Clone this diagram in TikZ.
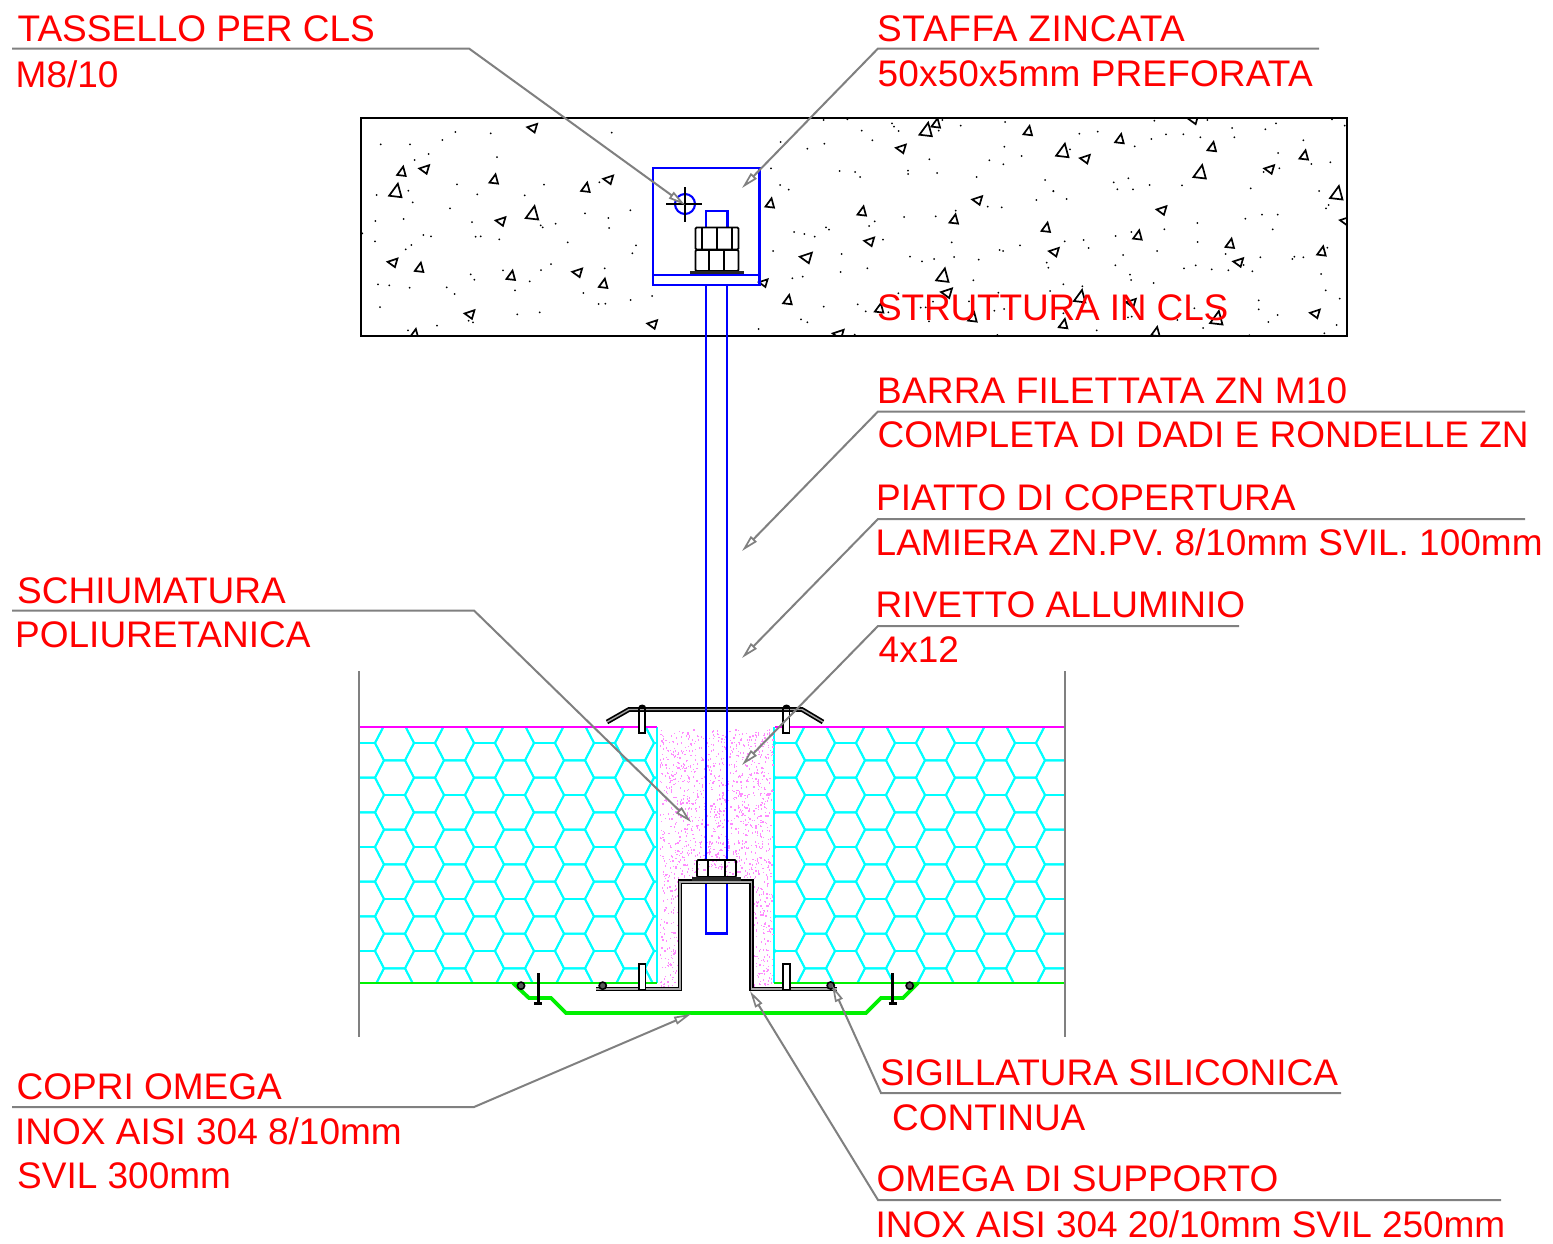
\documentclass[tikz,border=0pt]{standalone}
\usepackage{fontspec}
\setmainfont{Liberation Sans}
\usetikzlibrary{arrows.meta}
\definecolor{lab}{RGB}{255,0,0}
\definecolor{lead}{RGB}{128,128,128}
\definecolor{plateblue}{RGB}{0,0,255}
\definecolor{hexc}{RGB}{0,255,255}
\definecolor{pinkline}{RGB}{255,0,255}
\definecolor{greenl}{RGB}{0,240,0}
\definecolor{foam}{RGB}{255,140,255}
\tikzset{
  lbl/.style={anchor=base west,inner sep=0pt,text=lab,font=\fontsize{37}{38}\selectfont},
  leader/.style={draw=lead,line width=2pt,-{Triangle[length=17pt,width=8pt,fill=white,line width=1.7pt]}},
  bluel/.style={draw=plateblue,line width=2.1pt},
  tri/.style={draw=black,line width=1.7pt,line join=miter},
  nut/.style={draw=black,line width=1.8pt,rounded corners=1.2pt},
  sheet/.style={draw=black,line width=4.8pt,line join=miter},
  sheetcore/.style={draw=lead!70,line width=1.4pt,line join=miter},
  rivet/.style={draw=black,line width=1.7pt},
  seal/.style={draw=black,line width=1.6pt,fill=black!65},
  panel/.style={draw=lead,line width=2pt},
  hexl/.style={draw=hexc,line width=1.9pt},
}
\newcommand{\specks}[3]{\foreach \px/\py in {#3}{\fill[black] ({#1+\px/3},{#2+\py/3}) circle (1pt);}}
\newcommand{\triUp}[3]{\foreach \px/\py/\qs in {#3}{\pgfmathsetmacro{\ps}{1.12*\qs}\draw[tri] ({#1+\px/3+0.3*\ps},{#2+\py/3-\ps}) -- ({#1+\px/3+0.8*\ps},{#2+\py/3+0.85*\ps}) -- ({#1+\px/3-0.9*\ps},{#2+\py/3+0.65*\ps}) -- cycle;}}
\newcommand{\triLeft}[3]{\foreach \px/\py/\qs in {#3}{\pgfmathsetmacro{\ps}{1.12*\qs}\draw[tri] ({#1+\px/3-\ps},{#2+\py/3-0.1*\ps}) -- ({#1+\px/3+0.95*\ps},{#2+\py/3-0.75*\ps}) -- ({#1+\px/3+0.45*\ps},{#2+\py/3+0.95*\ps}) -- cycle;}}
\newcommand{\hexfield}[1]{\foreach \ci in {0,...,12}{\foreach \rj in {-1,...,8}{
  \pgfmathsetmacro{\cx}{#1+30*\ci}
  \pgfmathsetmacro{\cy}{743+34.67*\rj+(mod(\ci,2)==1 ? 17.33 : 0)}
  \draw[hexl] ({\cx-10.5},{\cy-17.33}) -- ({\cx+10.5},{\cy-17.33}) -- ({\cx+19.5},\cy) -- ({\cx+10.5},{\cy+17.33}) -- ({\cx-10.5},{\cy+17.33}) -- ({\cx-19.5},\cy) -- cycle;
}}}
\begin{document}
\begin{tikzpicture}[x=1pt,y=-1pt]
\useasboundingbox[fill=white] (0,0) rectangle (1553,1243);

% --- concrete
\begin{scope}
\clip (361,118) rectangle (1347,336);
\specks{355}{110}{77/103,165/103,262/90,301/66,407/70,770/68,426/141,221/132,179/150,306/223,367/253,567/224,509/256,733/217,65/255,160/242,173/277,285/295,61/333,146/327,351/336,690/310,826/301,760/324,762/354,557/346,563/352,602/341,22/370,60/394,205/375,228/379,362/380,377/379,433/388,638/397,843/406,832/430,169/405,152/418,588/462,558/480,444/481,347/493,358/509,524/514,749/475,69/523,103/526,164/533,275/532,299/552,480/541,685/549,891/558,75/591,731/582,751/581,827/570,487/613,554/607,341/632,354/637,246/647,159/661}
\specks{750}{110}{221/30,292/28,335/62,426/40,432/50,446/63,566/62,577/30,632/47,765/36,92/96,172/116,223/101,367/91,63/175,538/148,718/151,763/110,760/163,815/138,269/183,315/186,330/201,474/182,474/192,561/189,680/201,885/210,90/225,116/239,910/244,859/270,713/290,755/292,617/302,462/321,557/319,374/334,357/348,228/352,237/359,132/366,163/372,194/380,399/389,605/397,69/423,275/432,480/440,516/454,552/447,612/441,686/449,749/420,759/423,810/406,890/458,895/473,352/475,272/486,127/505,158/500,670/511,445/550,745/548,900/543,549/575,657/574,323/583,221/590,347/604,512/593,527/592,733/602,762/597,415/607,153/628,172/637,537/634,26/657,314/674,742/675,927/650}
\specks{1050}{110}{313/32,472/30,846/28,884/47,678/40,546/54,646/58,88/71,143/65,348/73,400/73,304/87,451/82,553/82,760/91,254/109,60/118,684/129,841/157,784/162,688/175,641/186,235/205,191/217,299/225,396/226,202/238,249/238,602/235,10/243,50/267,807/243,836/285,828/295,586/326,636/314,683/314,442/339,343/358,668/358,244/366,197/378,101/390,44/394,443/396,116/414,321/423,219/435,527/432,631/442,727/447,733/440,760/442,832/413,196/466,402/475,437/466,485/478,535/481,581/465,607/484,813/492,240/494,243/510,40/523,97/529,311/519,827/541,626/571,869/566,626/598,433/595,40/610,234/622,245/620,683/615,382/630,655/636,459/654,140/661,860/645,823/670,598/676}
\triUp{355}{110}{140/185/4.5,122/243/6.5,417/208/4.5,692/233/4.5,532/310/6.5,193/473/4.5,468/497/4.5,745/521/4.5,178/672/4.5}
\triLeft{355}{110}{532/53/4.5,208/177/4.5,760/208/4.5,437/333/4.5,113/457/4.5,667/487/4.5,344/612/4.5,892/642/4.5}
\triUp{750}{110}{528/60/6.5,558/40/4.5,834/63/4.5,60/280/4.5,336/304/4.5,612/328/4.5,888/353/4.5,578/497/6.5,113/570/4.5,388/595/4.5,668/622/4.5}
\triLeft{750}{110}{453/115/4.5,682/270/4.5,358/394/4.5,168/442/5.5,40/518/4,590/548/5,265/672/5}
\triUp{1050}{110}{209/87/4.5,38/123/6.5,486/111/4.5,762/136/4.5,450/187/6.5,860/250/6.5,263/376/4.5,540/401/4.5,815/424/4.5,90/560/6,500/625/6.5,40/642/4.5,317/666/4.5}
\triLeft{1050}{110}{430/28/4.5,105/146/4.5,658/177/4.5,335/300/4.5,885/332/4.5,12/425/4.5,565/456/4.5,243/578/4.5,795/610/4.5}
\end{scope}
\draw[black,line width=2.1pt] (361,118) rectangle (1347,336);

% --- insulation
\begin{scope}
\clip (360,727) rectangle (657.5,983);
\hexfield{334.5}
\end{scope}
\begin{scope}
\clip (774,727) rectangle (1065,983);
\hexfield{755.5}
\end{scope}
\draw[hexl] (657.3,727) -- (657.3,983);
\draw[hexl] (774,727) -- (774,983);

% --- foam
\pgfmathsetseed{17}
\foreach \i in {1,...,1900}{
  \pgfmathsetmacro{\fa}{659.5+rnd*113}
  \pgfmathsetmacro{\fb}{729+rnd*257}
  \fill[foam] (\fa,\fb) rectangle ({\fa+1.2},{\fb+1.5});
}
\fill[white] (680,882) rectangle (752,990);
\fill[white] (757,986) rectangle (774,992);

\draw[pinkline,line width=2pt] (360,727) -- (657,727);
\draw[pinkline,line width=2pt] (775,727) -- (1065,727);
\draw[greenl,line width=2.2pt] (360,983) -- (657,983);
\draw[greenl,line width=2.2pt] (774,983) -- (1065,983);
\draw[panel] (359,671) -- (359,1037);
\draw[panel] (1065,671) -- (1065,1037);

% --- rod and bracket
\draw[bluel] (706,285) -- (706,860);
\draw[bluel] (727,285) -- (727,860);
\draw[bluel] (706,880) -- (706,933.5) -- (727,933.5) -- (727,880);
\draw[bluel] (652.8,168.3) rectangle (759.5,285);
\draw[bluel] (652.8,275) -- (759.5,275);
\draw[bluel] (706,227) -- (706,211) -- (727.5,211) -- (727.5,227);
\draw[bluel] (685,204) circle (10pt);
\draw[black,line width=1.7pt] (666,204) -- (702,204);
\draw[black,line width=1.7pt] (685,187) -- (685,222);

% --- upper nuts
\draw[nut] (695.5,227.5) rectangle (738.5,249.5);
\draw[nut] (702,227.5) -- (702,249.5);
\draw[nut] (717,227.5) -- (717,249.5);
\draw[nut] (732,227.5) -- (732,249.5);
\draw[nut] (695.5,250) rectangle (738.5,271);
\draw[nut] (709,250) -- (709,271);
\draw[nut] (724,250) -- (724,271);
\fill[black!85] (689.5,270.5) rectangle (744,274);

% --- cover plate
\fill[white] (639,708) rectangle (645.3,733);
\fill[white] (783.3,708) rectangle (789.6,733);
\draw[sheet] (607,722) -- (629,709.5) -- (802,709.5) -- (823,722);
\draw[sheetcore] (607,722) -- (629,709.5) -- (802,709.5) -- (823,722);
\draw[bluel] (706,706) -- (706,713);
\draw[bluel] (727,706) -- (727,713);
\fill[black] (638.2,708) arc[start angle=180,end angle=0,x radius=4pt,y radius=3.5pt] -- cycle;
\fill[black] (782.5,708) arc[start angle=180,end angle=0,x radius=4pt,y radius=3.5pt] -- cycle;
\draw[rivet] (639,708) rectangle (645.3,733);
\draw[rivet] (783.3,708) rectangle (789.6,733);

% --- green cover
\draw[greenl,line width=3.8pt,line join=miter] (513,983) -- (529,998) -- (551,998) -- (566,1013) -- (866,1013) -- (881,998) -- (903,998) -- (918,983);

% --- omega
\draw[sheet] (596,989) -- (680,989) -- (680,881.8) -- (751.7,881.8) -- (751.7,989) -- (837,989);
\draw[sheetcore] (596,989) -- (680,989) -- (680,881.8) -- (751.7,881.8) -- (751.7,989) -- (837,989);

% --- lower nut
\draw[nut] (697,860) rectangle (736,877);
\draw[nut] (708,860) -- (708,877);
\draw[nut] (725,860) -- (725,877);
\fill[black!85] (692,877) rectangle (741,880.5);

% --- rivets and screws
\draw[rivet,fill=white] (639,964) rectangle (645.6,990);
\draw[rivet,fill=white] (783.3,964) rectangle (789.9,990);
\draw[black,line width=3pt] (538,973) -- (538,1003);
\draw[black,line width=3pt] (534,1003) -- (542,1003);
\draw[black,line width=3pt] (892.7,973) -- (892.7,1003);
\draw[black,line width=3pt] (888.7,1003) -- (896.7,1003);
\draw[seal] (521,985.7) circle (3.6pt);
\draw[seal] (602.7,985.7) circle (3.6pt);
\draw[seal] (830.7,985.5) circle (3.6pt);
\draw[seal] (909.7,985.7) circle (3.6pt);

% --- labels
\node[lbl] (t1a) at (17.5,41) {TASSELLO PER CLS};
\node[lbl] (t1b) at (15.5,87) {M8/10};
\node[lbl] (t2a) at (877,41) {\addfontfeature{LetterSpace=1.7}STAFFA ZINCATA};
\node[lbl] (t2b) at (877.5,86) {\addfontfeature{LetterSpace=0.4}50x50x5mm PREFORATA};
\node[lbl] (t3) at (877,320) {\addfontfeature{LetterSpace=-0.5}STRUTTURA IN CLS};
\node[lbl] (t4a) at (877,403) {\addfontfeature{LetterSpace=0.5}BARRA FILETTATA ZN M10};
\node[lbl] (t4b) at (877.5,447) {COMPLETA DI DADI E RONDELLE ZN};
\node[lbl] (t5a) at (876,510) {PIATTO DI COPERTURA};
\node[lbl] (t5b) at (875.5,555) {LAMIERA ZN.PV. 8/10mm SVIL. 100mm};
\node[lbl] (t6a) at (875.5,617) {RIVETTO ALLUMINIO};
\node[lbl] (t6b) at (878.5,662) {4x12};
\node[lbl] (t7a) at (17,603) {SCHIUMATURA};
\node[lbl] (t7b) at (15,647) {POLIURETANICA};
\node[lbl] (t8a) at (16.5,1099) {COPRI OMEGA};
\node[lbl] (t8b) at (15,1144) {INOX AISI 304 8/10mm};
\node[lbl] (t8c) at (17,1188) {SVIL 300mm};
\node[lbl] (t9a) at (880,1085) {SIGILLATURA SILICONICA};
\node[lbl] (t9b) at (892,1130) {CONTINUA};
\node[lbl] (t10a) at (876.5,1191) {OMEGA DI SUPPORTO};
\node[lbl] (t10b) at (875.5,1237) {\addfontfeature{LetterSpace=-0.2}INOX AISI 304 20/10mm SVIL 250mm};

% --- leaders
\coordinate (l1s) at (12,48.5);   \coordinate (l1k) at (469,48.5);   \coordinate (l1e) at (685,205);
\coordinate (l2s) at (1319,48.5); \coordinate (l2k) at (878,48.5);   \coordinate (l2e) at (742,188);
\coordinate (l4s) at (1525,411.5);\coordinate (l4k) at (878,411.5);  \coordinate (l4e) at (742,551);
\coordinate (l5s) at (1525,519);  \coordinate (l5k) at (878,519);    \coordinate (l5e) at (742,658);
\coordinate (l6s) at (1239,626);  \coordinate (l6k) at (878,626);    \coordinate (l6e) at (742,765);
\coordinate (l7s) at (12,610.5);  \coordinate (l7k) at (474,610.5);  \coordinate (l7e) at (691,822);
\coordinate (l8s) at (12,1107);   \coordinate (l8k) at (474,1107);   \coordinate (l8e) at (691,1014);
\coordinate (l9s) at (1341,1093); \coordinate (l9k) at (881,1093);   \coordinate (l9e) at (832,985);
\coordinate (l10s) at (1501,1200);\coordinate (l10k) at (878,1200);  \coordinate (l10e) at (750,991);
\draw[leader] (l1s) -- (l1k) -- (l1e);
\draw[leader] (l2s) -- (l2k) -- (l2e);
\draw[leader] (l4s) -- (l4k) -- (l4e);
\draw[leader] (l5s) -- (l5k) -- (l5e);
\draw[leader] (l6s) -- (l6k) -- (l6e);
\draw[leader] (l7s) -- (l7k) -- (l7e);
\draw[leader] (l8s) -- (l8k) -- (l8e);
\draw[leader] (l9s) -- (l9k) -- (l9e);
\draw[leader] (l10s) -- (l10k) -- (l10e);
\end{tikzpicture}
\end{document}
